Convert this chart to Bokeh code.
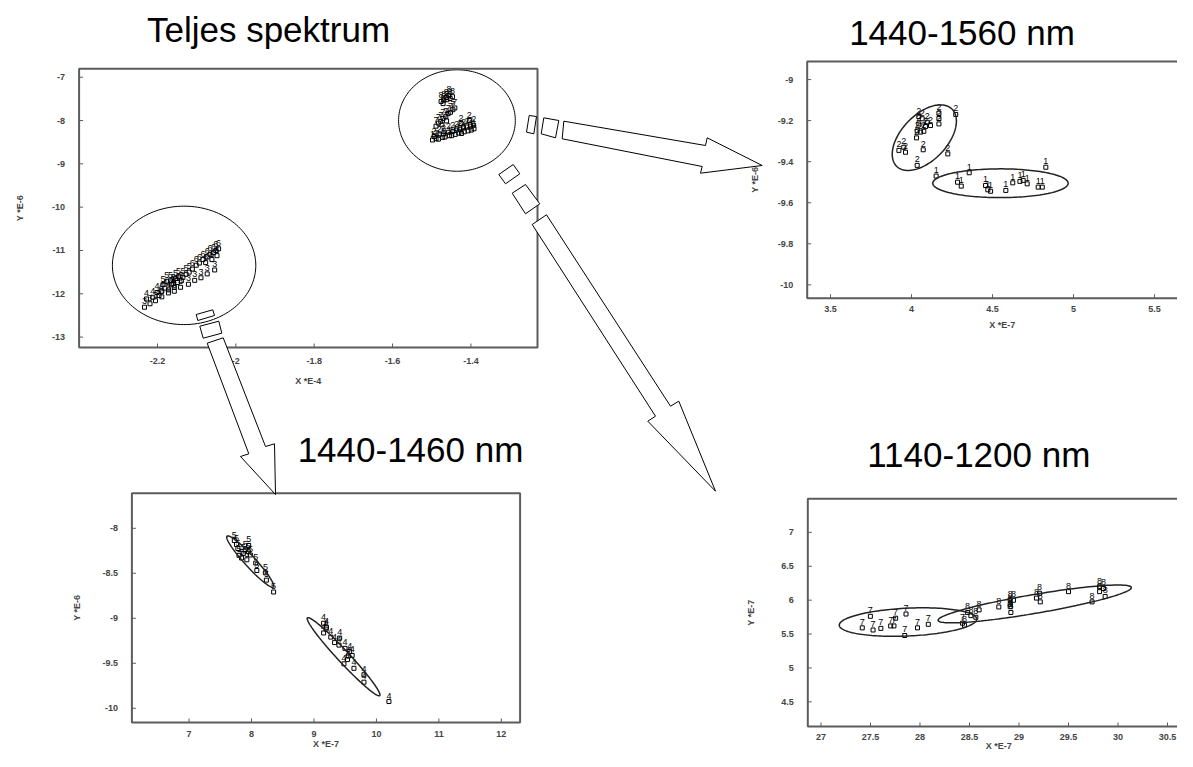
import numpy as np
from bokeh.plotting import figure
from bokeh.models import Range1d
from bokeh.core.properties import value
from bokeh.embed import file_html
from bokeh.resources import INLINE

# ---------------- data ----------------
# Panel "Teljes spektrum"  (X *E-4, Y *E-6)
full_x1 = [-1.498, -1.489, -1.483, -1.472, -1.466, -1.455, -1.449, -1.440, -1.431, -1.424, -1.417, -1.407, -1.399, -1.392]
full_y1 = [-8.45, -8.42, -8.43, -8.39, -8.38, -8.35, -8.35, -8.32, -8.29, -8.30, -8.26, -8.24, -8.22, -8.19]
full_x2 = [-1.494, -1.481, -1.470, -1.457, -1.446, -1.437, -1.428, -1.419, -1.410, -1.401, -1.393, -1.425, -1.404]
full_y2 = [-8.37, -8.33, -8.31, -8.27, -8.25, -8.22, -8.20, -8.17, -8.15, -8.13, -8.11, -8.07, -8.00]
full_x7 = [-1.489, -1.483, -1.477, -1.471, -1.464, -1.458, -1.452, -1.446, -1.441, -1.474, -1.462]
full_y7 = [-8.13, -8.06, -8.02, -7.95, -7.91, -7.84, -7.81, -7.75, -7.71, -8.10, -8.01]
full_x8 = [-1.476, -1.469, -1.461, -1.453, -1.447, -1.456, -1.463, -1.471]
full_y8 = [-7.56, -7.53, -7.52, -7.49, -7.45, -7.42, -7.47, -7.61]
full_x3 = [-2.233, -2.219, -2.205, -2.189, -2.172, -2.157, -2.141, -2.121, -2.105, -2.089, -2.073, -2.054]
full_y3 = [-12.31, -12.23, -12.16, -12.07, -11.98, -11.94, -11.85, -11.78, -11.69, -11.63, -11.54, -11.45]
full_x4 = [-2.228, -2.212, -2.201, -2.196, -2.189, -2.181, -2.172, -2.164, -2.157, -2.149]
full_y4 = [-12.12, -12.08, -11.97, -12.04, -11.94, -11.87, -11.91, -11.79, -11.85, -11.74]
full_x5 = [-2.186, -2.176, -2.167, -2.160, -2.154, -2.146, -2.139, -2.135, -2.127, -2.119]
full_y5 = [-11.79, -11.71, -11.70, -11.76, -11.65, -11.61, -11.70, -11.62, -11.55, -11.50]
full_x6 = [-2.111, -2.101, -2.093, -2.084, -2.077, -2.073, -2.066, -2.061, -2.057, -2.051, -2.048, -2.044]
full_y6 = [-11.43, -11.34, -11.29, -11.21, -11.28, -11.15, -11.09, -11.21, -11.05, -11.00, -11.12, -10.96]
full_xticks = [-2.2, -2.0, -1.8, -1.6, -1.4]
full_xlabels = ["-2.2", "-2", "-1.8", "-1.6", "-1.4"]
full_yticks = [-7, -8, -9, -10, -11, -12, -13]
full_ylabels = ["-7", "-8", "-9", "-10", "-11", "-12", "-13"]

# Panel "1440-1560 nm"  (X *E-7, Y *E-6)
b_x1 = [4.152, 4.356, 4.284, 4.307, 4.457, 4.471, 4.488, 4.582, 4.625, 4.669, 4.689, 4.714, 4.782, 4.807, 4.829]
b_y1 = [-9.470, -9.454, -9.500, -9.519, -9.516, -9.537, -9.544, -9.540, -9.503, -9.496, -9.491, -9.508, -9.524, -9.524, -9.427]
b_x2 = [4.045, 4.169, 4.169, 4.273, 4.169, 4.066, 4.097, 4.117, 4.045, 4.086, 4.035, 4.056, 4.076, 4.072, 4.031, 3.922, 3.952, 3.963, 4.035, 4.224]
b_y2 = [-9.180, -9.164, -9.190, -9.170, -9.216, -9.191, -9.208, -9.224, -9.216, -9.229, -9.250, -9.256, -9.252, -9.342, -9.284, -9.345, -9.330, -9.354, -9.418, -9.362]
b_xticks = [3.5, 4, 4.5, 5, 5.5]
b_xlabels = ["3.5", "4", "4.5", "5", "5.5"]
b_yticks = [-9, -9.2, -9.4, -9.6, -9.8, -10]
b_ylabels = ["-9", "-9.2", "-9.4", "-9.6", "-9.8", "-10"]

# Panel "1440-1460 nm"  (X *E-7, Y *E-6)
c_x5 = [7.725, 7.782, 7.868, 7.954, 7.982, 7.925, 8.068, 8.085, 8.222, 8.238, 8.354, 7.760, 7.800, 7.900, 7.840, 7.950]
c_y5 = [-8.136, -8.225, -8.279, -8.190, -8.297, -8.350, -8.386, -8.469, -8.494, -8.576, -8.708, -8.180, -8.300, -8.240, -8.330, -8.260]
c_x4 = [9.154, 9.194, 9.154, 9.269, 9.411, 9.400, 9.496, 9.571, 9.611, 9.536, 9.480, 9.640, 9.800, 9.800, 10.200, 9.200, 9.330, 9.550]
c_y4 = [-9.055, -9.120, -9.163, -9.209, -9.220, -9.298, -9.334, -9.370, -9.413, -9.459, -9.506, -9.556, -9.627, -9.710, -9.925, -9.100, -9.270, -9.420]
c_xticks = [7, 8, 9, 10, 11, 12]
c_xlabels = ["7", "8", "9", "10", "11", "12"]
c_yticks = [-8, -8.5, -9, -9.5, -10]
c_ylabels = ["-8", "-8.5", "-9", "-9.5", "-10"]

# Panel "1140-1200 nm"  (X *E-7, Y *E-7)
d_x7 = [27.417, 27.526, 27.605, 27.499, 27.704, 27.737, 27.754, 27.859, 27.846, 27.975, 28.084, 28.430]
d_y7 = [5.592, 5.560, 5.584, 5.762, 5.620, 5.620, 5.734, 5.796, 5.479, 5.592, 5.644, 5.660]
d_x8 = [28.450, 28.481, 28.514, 28.597, 28.564, 28.796, 28.911, 28.911, 28.911, 28.918, 28.944, 29.176, 29.208, 29.215, 29.500, 29.738, 29.814, 29.814, 29.853, 29.870]
d_y8 = [5.630, 5.819, 5.772, 5.857, 5.748, 5.900, 6.008, 5.938, 5.904, 5.819, 5.999, 6.031, 6.102, 5.975, 6.126, 5.975, 6.197, 6.126, 6.173, 6.055]
d_xticks = [27, 27.5, 28, 28.5, 29, 29.5, 30, 30.5]
d_xlabels = ["27", "27.5", "28", "28.5", "29", "29.5", "30", "30.5"]
d_yticks = [7, 6.5, 6, 5.5, 5, 4.5]
d_ylabels = ["7", "6.5", "6", "5.5", "5", "4.5"]

# confidence ellipses: centre, semi-axis vector u, semi-axis vector v (data units)
b_ell = [((4.549, -9.505), (0.418, 0.0), (0.0, 0.070)),
         ((4.079, -9.283), (0.170, 0.140), (-0.1016, 0.0768))]
c_ell = [((7.98, -8.37), (0.371, -0.283), (-0.066, -0.039)),
         ((9.474, -9.427), (0.578, -0.432), (-0.0715, -0.043))]
d_ell = [((27.879, 5.677), (0.694, 0.047), (-0.0069, 0.205)),
         ((29.159, 5.945), (0.976, 0.243), (-0.0168, 0.137))]
# magnifier circles on the full-spectrum panel
full_ell = [((-1.4356, -8.0), (0.149, 0.0), (0.0, 1.171)),
            ((-2.132, -11.344), (0.183, 0.0), (0.0, 1.367))]

# ---------------- figure (canvas in page pixels) ----------------
FONT = value("Liberation Sans")
p = figure(width=1177, height=751, x_range=Range1d(0, 1177), y_range=Range1d(751, 0),
           x_axis_type=None, y_axis_type=None, output_backend="svg",
           toolbar_location=None, min_border=0)
p.grid.visible = False
p.outline_line_color = None
p.background_fill_color = "white"


def ellipse_outline(c, u, v, n=160):
    t = np.linspace(0, 2 * np.pi, n)
    return (c[0] + u[0] * np.cos(t) + v[0] * np.sin(t),
            c[1] + u[1] * np.cos(t) + v[1] * np.sin(t))


def draw_panel(xr, yr, box, groups, ellipses, ell_style, xticks, xlabels, yticks, ylabels,
               xtitle, ytitle, tick_off, xt_off, yt_off):
    sub = p.subplot(x_source=Range1d(*xr), y_source=Range1d(*yr),
                    x_target=Range1d(box[0], box[1]), y_target=Range1d(box[2], box[3]))
    x0, x1 = xr
    y0, y1 = yr
    for lab, xs, ys in groups:
        sub.scatter(x=xs, y=ys, marker="square", size=4, fill_color=None,
                    line_color="black", line_width=1)
        sub.text(x=xs, y=ys, text=[lab] * len(xs), text_font=FONT, text_font_size="9px",
                 text_align="center", text_baseline="bottom", y_offset=-3, text_color="black")
    for c, u, v in ellipses:
        ex, ey = ellipse_outline(c, u, v)
        sub.line(x=ex, y=ey, **ell_style)
    # frame
    sub.quad(left=[x0], right=[x1], bottom=[y0], top=[y1], fill_color=None,
             line_color="#5c5c5c", line_width=2)
    # ticks (inward)
    sub.ray(x=[x0] * len(yticks), y=yticks, length=4, length_units="screen", angle=0,
            line_color="#5c5c5c", line_width=1)
    sub.ray(x=xticks, y=[y0] * len(xticks), length=4, length_units="screen", angle=np.pi / 2,
            line_color="#5c5c5c", line_width=1)
    sub.text(x=[x0] * len(yticks), y=yticks, text=ylabels, x_offset=-14, text_font=FONT,
             text_font_size="9px", text_font_style="bold", text_color="#444444",
             text_align="right", text_baseline="middle")
    sub.text(x=xticks, y=[y0] * len(xticks), text=xlabels, y_offset=tick_off, text_font=FONT,
             text_font_size="9px", text_font_style="bold", text_color="#444444",
             text_align="center", text_baseline="middle")
    sub.text(x=[(x0 + x1) / 2], y=[y0], text=[xtitle], y_offset=xt_off, text_font=FONT,
             text_font_size="9px", text_font_style="bold", text_color="#444444",
             text_align="center", text_baseline="middle")
    sub.text(x=[x0], y=[(y0 + y1) / 2], text=[ytitle], x_offset=yt_off, angle=np.pi / 2,
             text_font=FONT, text_font_size="9px", text_font_style="bold",
             text_color="#444444", text_align="center", text_baseline="middle")
    return sub


panel_ell = dict(line_color="#222222", line_width=1.5)
circle_ell = dict(line_color="black", line_width=1)

draw_panel((-2.40, -1.23), (-13.24, -6.806), (78.6, 537, 347, 68.3),
           [("1", full_x1, full_y1), ("2", full_x2, full_y2), ("7", full_x7, full_y7),
            ("8", full_x8, full_y8), ("3", full_x3, full_y3), ("4", full_x4, full_y4),
            ("5", full_x5, full_y5), ("6", full_x6, full_y6)],
           full_ell, circle_ell, full_xticks, full_xlabels, full_yticks, full_ylabels,
           "X *E-4", "Y *E-6", 13, 33, -59)

draw_panel((3.356, 5.764), (-10.065, -8.912), (806.7, 1196.8, 297.7, 61),
           [("1", b_x1, b_y1), ("2", b_x2, b_y2)],
           b_ell, panel_ell, b_xticks, b_xlabels, b_yticks, b_ylabels,
           "X *E-7", "Y *E-6", 11, 27, -52)

draw_panel((6.085, 12.30), (-10.158, -7.61), (131.4, 519.6, 722, 492.7),
           [("5", c_x5, c_y5), ("4", c_x4, c_y4)],
           c_ell, panel_ell, c_xticks, c_xlabels, c_yticks, c_ylabels,
           "X *E-7", "Y *E-6", 11, 21, -55)

draw_panel((26.867, 30.725), (4.136, 7.496), (807.3, 1189.3, 726, 498.3),
           [("7", d_x7, d_y7), ("8", d_x8, d_y8)],
           d_ell, panel_ell, d_xticks, d_xlabels, d_yticks, d_ylabels,
           "X *E-7", "Y *E-7", 10, 19, -57)

# ---------------- titles ----------------
titles = ["Teljes spektrum", "1440-1560 nm", "1440-1460 nm", "1140-1200 nm"]
p.text(x=[268, 961.5, 410, 978.3], y=[29.0, 32.3, 449.0, 454.0], text=titles,
       text_font=FONT, text_font_size="35px", text_align="center",
       text_baseline="middle", text_color="black")

# ---------------- block arrows (page pixel coordinates) ----------------
arrow_shapes = [
    [(563.3, 120.7), (705, 145), (706.7, 137.3), (761.7, 165), (700, 172.7), (701.7, 166), (561.7, 138.3)],
    [(526, 131.7), (528.7, 115), (536, 116), (533.3, 133.3)],
    [(540.7, 133.3), (543.3, 117.3), (558.3, 120), (555, 137.3)],
    [(531.7, 224), (546, 214.3), (670, 405.7), (678.3, 400.7), (715, 490.7), (647.3, 420.7), (655, 415.7)],
    [(498.3, 174), (512.7, 164), (519.3, 173.3), (505, 183.3)],
    [(511.7, 192.7), (525, 184), (539.3, 203.3), (525, 213.3)],
    [(206.7, 342.7), (222.7, 337.3), (265, 446), (274, 443.3), (275, 494), (240, 456), (248.3, 453.3)],
    [(195.7, 314), (212.3, 309.3), (214, 315), (197.3, 320)],
    [(199.3, 325.7), (218.3, 320.7), (221.3, 332.7), (202.7, 337.7)],
]
p.patches(xs=[[q[0] for q in s] for s in arrow_shapes],
          ys=[[q[1] for q in s] for s in arrow_shapes],
          fill_color="white", line_color="black", line_width=1)

open("out.html", "w").write(file_html(p, INLINE))
